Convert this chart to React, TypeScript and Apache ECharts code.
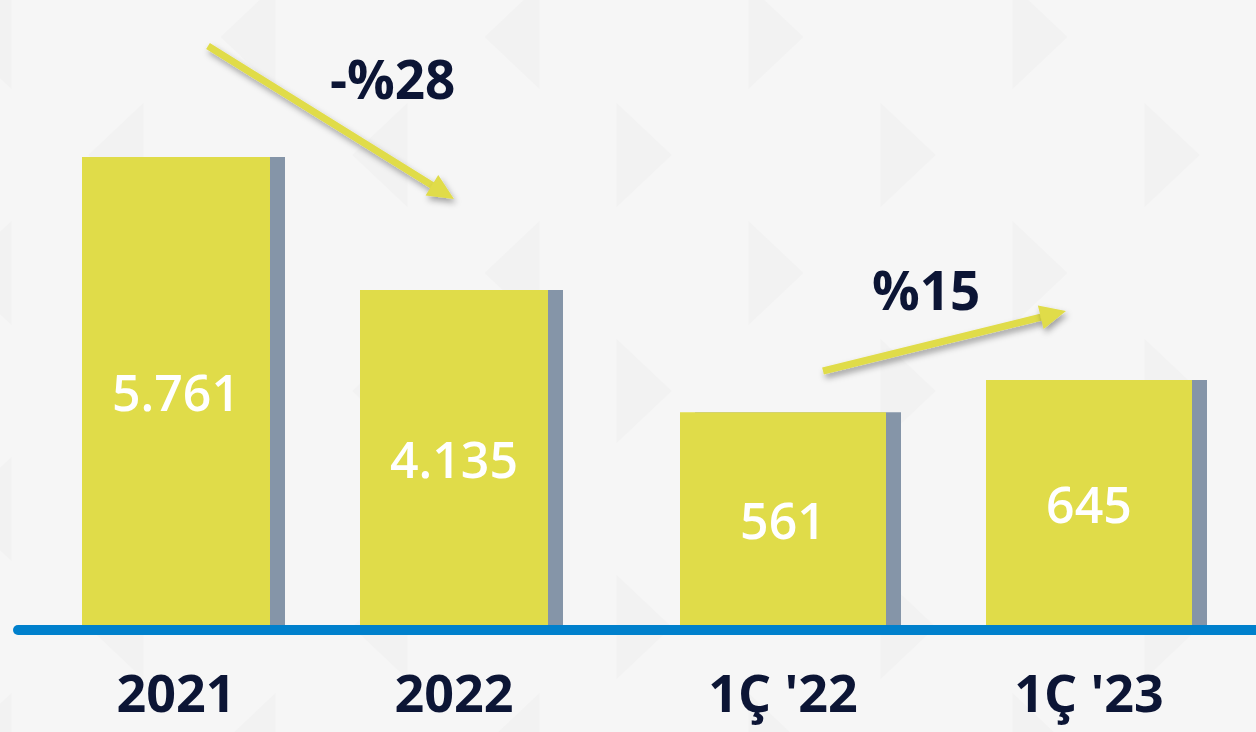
import React, { useEffect, useRef } from "react";
import * as echarts from "echarts";

const annualCategories = ["2021", "2022"];
const annualValues = [5761, 4135];
const quarterCategories = ["1Ç '22", "1Ç '23"];
const quarterValues = [561, 645];
const changeLabels = ["-%28", "%15"];

const YELLOW = "#e0dc48";
const SHADOW = "#8595a8";
const NAVY = "#0c1535";
const BLUE = "#0080cc";
const FONT = "'Open Sans', 'Noto Sans', sans-serif";

function fmt(v: number): string {
  return String(v).replace(/\B(?=(\d{3})+(?!\d))/g, ".");
}

function arrow(x1: number, y1: number, x2: number, y2: number) {
  const dx = x2 - x1;
  const dy = y2 - y1;
  const len = Math.sqrt(dx * dx + dy * dy);
  const ux = dx / len;
  const uy = dy / len;
  const hl = 26;
  const hw = 12;
  const bx = x2 - ux * hl;
  const by = y2 - uy * hl;
  const px = -uy;
  const py = ux;
  const shadow = {
    shadowBlur: 6,
    shadowColor: "rgba(0,0,0,0.35)",
    shadowOffsetX: 2,
    shadowOffsetY: 4,
  };
  return [
    {
      type: "line",
      z: 100,
      shape: { x1, y1, x2: bx + ux * 2, y2: by + uy * 2 },
      style: { stroke: YELLOW, lineWidth: 7, ...shadow },
    },
    {
      type: "polygon",
      z: 100,
      shape: {
        points: [
          [x2, y2],
          [bx + px * hw, by + py * hw],
          [bx - px * hw, by - py * hw],
        ],
      },
      style: { fill: YELLOW, ...shadow },
    },
  ];
}

function triangles() {
  const out: any[] = [];
  const w = 55;
  const h = 104;
  for (let k = 0; k < 11; k++) {
    const cx = -16 + 132 * k;
    const off = k % 2 === 0 ? 37 : 155;
    const left = cx < 560;
    for (let j = -1; j < 4; j++) {
      const cy = off + 236 * j;
      const pts = left
        ? [
            [cx + w / 2, cy - h / 2],
            [cx + w / 2, cy + h / 2],
            [cx - w / 2, cy],
          ]
        : [
            [cx - w / 2, cy - h / 2],
            [cx - w / 2, cy + h / 2],
            [cx + w / 2, cy],
          ];
      out.push({
        type: "polygon",
        z: -10,
        silent: true,
        shape: { points: pts },
        style: { fill: "#f2f2f2" },
      });
    }
  }
  return out;
}

export default function App() {
  const ref = useRef<HTMLDivElement>(null);

  useEffect(() => {
    document.body.style.margin = "0";
    if (!ref.current) return;
    const chart = echarts.init(ref.current, null, { renderer: "svg" });

    const barCommon = {
      type: "bar",
      itemStyle: {
        color: YELLOW,
        shadowColor: SHADOW,
        shadowOffsetX: 15,
        shadowOffsetY: 0,
        shadowBlur: 0,
      },
      label: {
        show: true,
        position: "inside",
        color: "#ffffff",
        fontFamily: FONT,
        fontWeight: 600,
        fontSize: 50,
        formatter: (p: any) => fmt(p.value),
      },
    };

    const axisLabel = {
      color: NAVY,
      fontFamily: FONT,
      fontWeight: 700,
      fontSize: 52,
      margin: 37,
    };

    chart.setOption({
      animation: false,
      backgroundColor: "#f6f6f6",
      grid: [
        { left: 37, width: 556, top: 128, bottom: 104 },
        { left: 630, width: 612, top: 128, bottom: 104 },
      ],
      xAxis: [
        {
          type: "category",
          gridIndex: 0,
          data: annualCategories,
          axisLine: { show: false },
          axisTick: { show: false },
          axisLabel,
        },
        {
          type: "category",
          gridIndex: 1,
          data: quarterCategories,
          axisLine: { show: false },
          axisTick: { show: false },
          axisLabel,
        },
      ],
      yAxis: [
        { type: "value", gridIndex: 0, min: 0, max: 6115, show: false },
        { type: "value", gridIndex: 1, min: 0, max: 1300, show: false },
      ],
      series: [
        {
          ...barCommon,
          name: "Yıllık",
          xAxisIndex: 0,
          yAxisIndex: 0,
          barWidth: 188,
          data: annualValues,
        },
        {
          ...barCommon,
          name: "Çeyreklik",
          xAxisIndex: 1,
          yAxisIndex: 1,
          barWidth: 206,
          data: quarterValues,
        },
      ],
      graphic: [
        ...triangles(),
        {
          type: "line",
          z: 90,
          shape: { x1: 18, y1: 630, x2: 1270, y2: 630 },
          style: { stroke: BLUE, lineWidth: 10, lineCap: "round" },
        },
        ...arrow(208, 46, 454, 199),
        ...arrow(823, 371, 1066, 311),
        {
          type: "text",
          z: 100,
          x: 330,
          y: 78,
          style: {
            text: changeLabels[0],
            fill: NAVY,
            font: `700 53px ${FONT}`,
            textAlign: "left",
            textVerticalAlign: "middle",
          },
        },
        {
          type: "text",
          z: 100,
          x: 872,
          y: 289,
          style: {
            text: changeLabels[1],
            fill: NAVY,
            font: `700 53px ${FONT}`,
            textAlign: "left",
            textVerticalAlign: "middle",
          },
        },
      ],
    });

    return () => chart.dispose();
  }, []);

  return <div ref={ref} style={{ width: 1256, height: 732 }} />;
}
